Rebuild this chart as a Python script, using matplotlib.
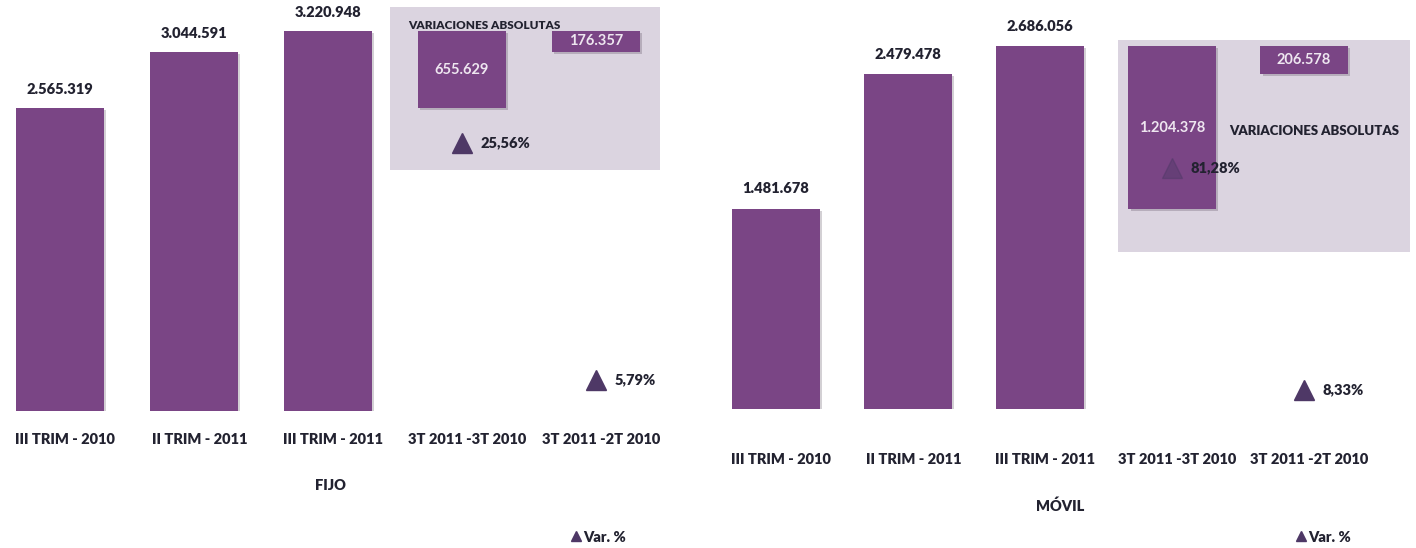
import matplotlib
matplotlib.use("Agg")
import matplotlib.pyplot as plt
import matplotlib.patheffects as pe
from matplotlib.patches import Rectangle
from matplotlib.lines import Line2D

plt.rcParams['font.family'] = ['Lato', 'DejaVu Sans']
plt.rcParams['font.weight'] = 'heavy'

categories = ["III TRIM - 2010", "II TRIM - 2011", "III TRIM - 2011",
              "3T 2011 -3T 2010", "3T 2011 -2T 2010"]

fijo_totals = [2565319, 3044591, 3220948]
fijo_var_abs = [655629, 176357]
fijo_var_pct = [25.56, 5.79]

movil_totals = [1481678, 2479478, 2686056]
movil_var_abs = [1204378, 206578]
movil_var_pct = [81.28, 8.33]

BAR = '#7a4585'
BOX = '#dbd4e0'
TRI = '#4e3866'
TXT = '#222230'
FS = 10.5

W, H = 1416, 548
fig = plt.figure(figsize=(W / 100, H / 100), dpi=100)


def fmt(v):
    return f"{v:,}".replace(",", ".")


def pct(v):
    return f"{v:.2f}%".replace(".", ",")


shadow = [pe.SimplePatchShadow(offset=(1.5, -1.5), alpha=0.2), pe.Normal()]


def panel(c0, step, base, ppm, xmax, ymax, p_lim, totals, var_abs, var_pct,
          box, tick_pad, title, title_xy, leg_xy, tri_alpha, var_text_xy, var_fs):
    # place axes so that data units map onto the reference pixel grid
    x0 = -0.4
    left = c0 + x0 * step
    width = (xmax - x0) * step
    height = ymax / 1e6 * ppm
    ax = fig.add_axes([left / W, (H - base) / H, width / W, height / H])
    ax.set_xlim(x0, xmax)
    ax.set_ylim(0, ymax)

    bx = ax.bar(range(3), totals, width=0.66, color=BAR, zorder=3)
    for b in bx:
        b.set_path_effects(shadow)
    for i, v in enumerate(totals):
        ax.text(i, v + 0.1e6, fmt(v), ha='center', va='bottom',
                fontsize=FS, color=TXT, zorder=5)

    # floating bars for the absolute variations
    bottoms = [totals[0], totals[1]]
    fb = ax.bar([3, 4], var_abs, bottom=bottoms, width=0.66, color=BAR, zorder=3)
    for b in fb:
        b.set_path_effects(shadow)
    for i, (v, b0) in enumerate(zip(var_abs, bottoms)):
        ax.text(3 + i, b0 + v / 2, fmt(v), ha='center', va='center',
                fontsize=FS, color='#eee6f0', fontweight='bold', zorder=5)

    ax.add_patch(Rectangle((box[0], box[2]), box[1] - box[0], box[3] - box[2],
                           facecolor=BOX, edgecolor='none', zorder=1,
                           clip_on=False))
    ax.text(var_text_xy[0], var_text_xy[1], "VARIACIONES ABSOLUTAS",
            ha='center', va='center', fontsize=var_fs, color=TXT, zorder=6)

    ax.set_xticks([i + 0.04 for i in range(5)])
    ax.set_xticklabels(categories, fontsize=FS, color=TXT)
    ax.tick_params(axis='x', length=0, pad=tick_pad)
    ax.set_yticks([])
    for s in ax.spines.values():
        s.set_visible(False)
    ax.patch.set_alpha(0)

    ax2 = ax.twinx()
    ax2.set_ylim(*p_lim)
    ax2.set_xlim(x0, xmax)
    ax2.plot([3], [var_pct[0]], marker='^', ms=15, color=TRI, ls='none',
             alpha=tri_alpha, zorder=6)
    ax2.plot([4], [var_pct[1]], marker='^', ms=15, color=TRI, ls='none', zorder=6)
    for i, v in enumerate(var_pct):
        ax2.text(3 + i + 0.14, v, pct(v), ha='left', va='center',
                 fontsize=FS, color=TXT, zorder=7)
    ax2.set_yticks([])
    for s in ax2.spines.values():
        s.set_visible(False)

    fig.text(title_xy[0] / W, 1 - title_xy[1] / H, title, ha='center',
             va='center', fontsize=FS, color=TXT)
    h = Line2D([], [], marker='^', ms=7, color=TRI, ls='none')
    fig.legend([h], ["Var. %"], loc='center', frameon=False, fontsize=FS,
               handletextpad=0.1, handlelength=0.8, labelcolor=TXT,
               bbox_to_anchor=(leg_xy[0] / W, 1 - leg_xy[1] / H),
               bbox_transform=fig.transFigure)


panel(c0=60, step=134, base=411, ppm=118, xmax=4.6, ymax=3.45e6,
      p_lim=(3.20, 37.15), totals=fijo_totals, var_abs=fijo_var_abs,
      var_pct=fijo_var_pct, box=(2.46, 4.48, 2.04e6, 3.42e6), tick_pad=16,
      title="FIJO", title_xy=(330, 485), leg_xy=(598, 537), tri_alpha=1.0,
      var_text_xy=(3.17, 3.27e6), var_fs=8.5)

panel(c0=776, step=132, base=409, ppm=135, xmax=4.85, ymax=3.0e6,
      p_lim=(2.09, 135.2), totals=movil_totals, var_abs=movil_var_abs,
      var_pct=movil_var_pct, box=(2.59, 4.80, 1.163e6, 2.733e6), tick_pad=32,
      title="MÓVIL", title_xy=(1060, 506), leg_xy=(1323, 537), tri_alpha=0.45,
      var_text_xy=(4.08, 2.06e6), var_fs=9.5)

fig.savefig("out.png", dpi=100, facecolor='white')
